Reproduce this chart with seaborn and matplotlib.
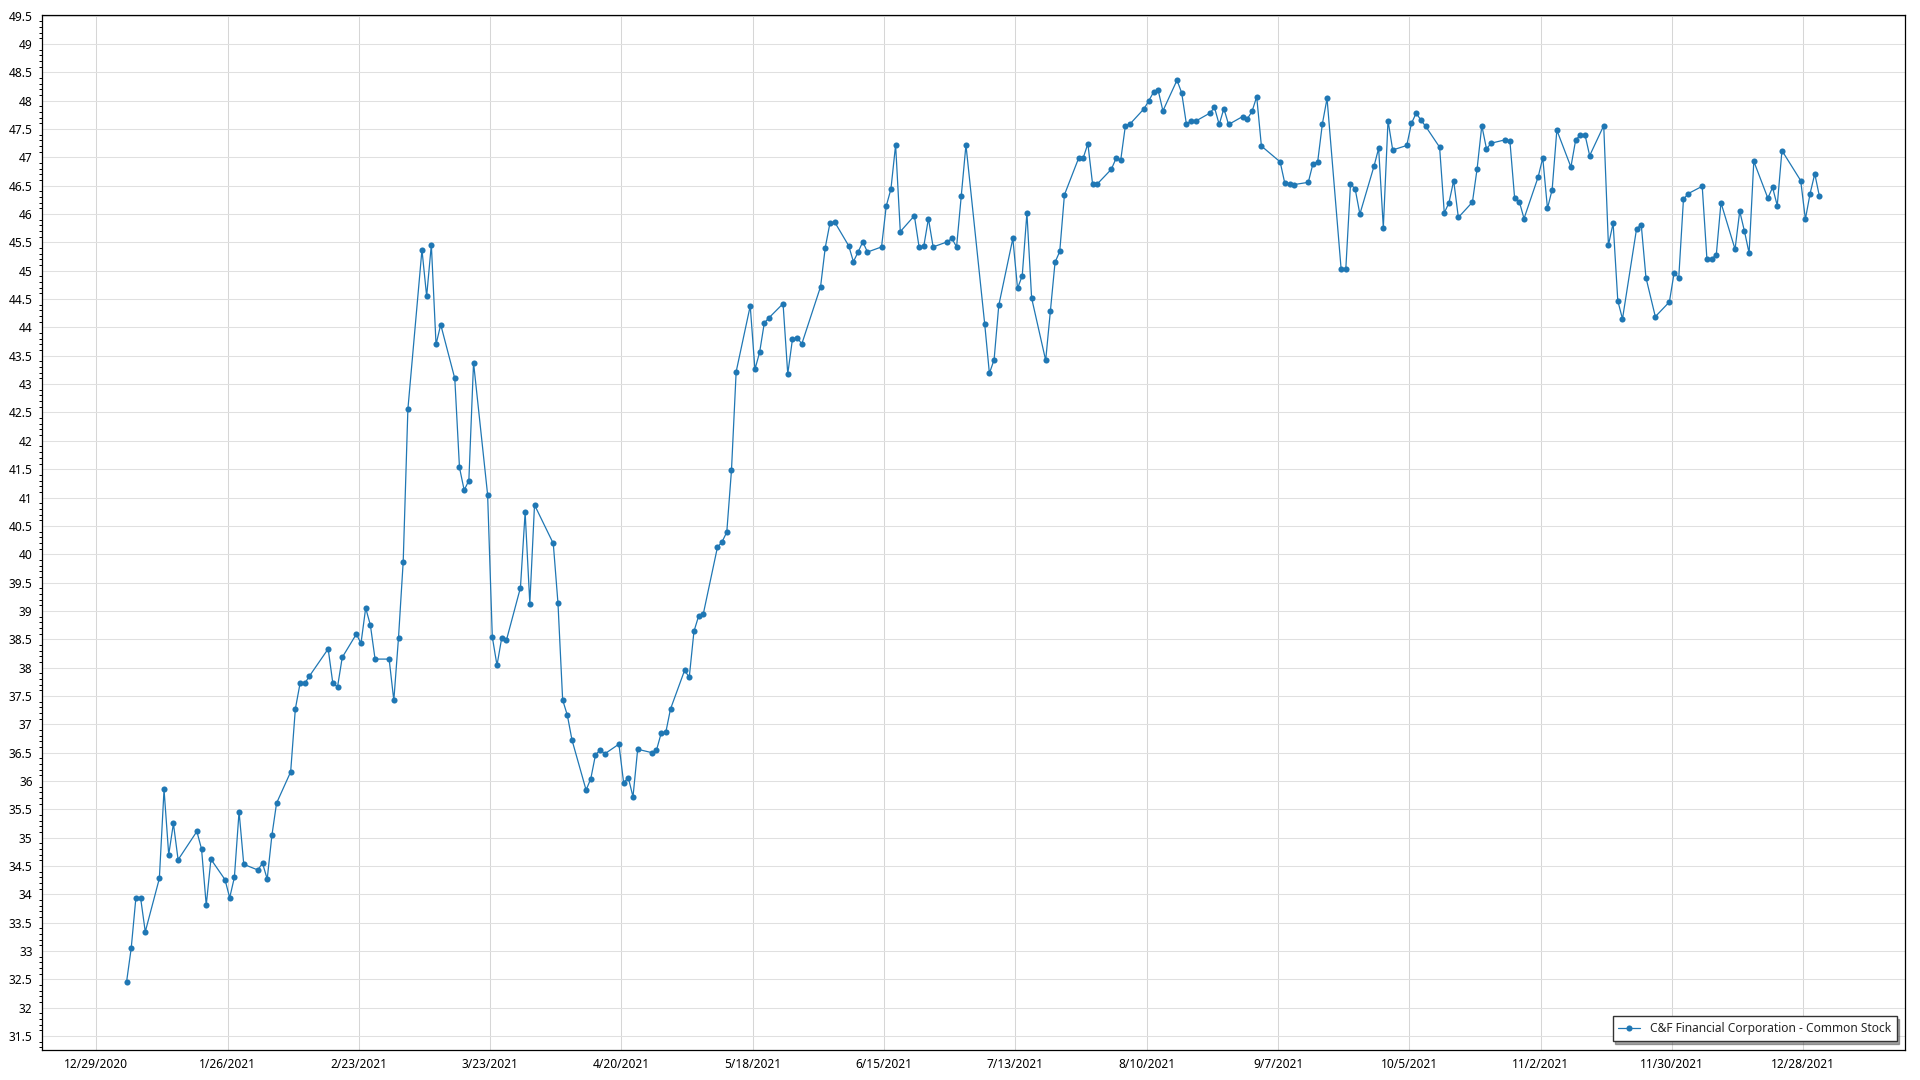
import numpy as np
import pandas as pd
import matplotlib
matplotlib.use("Agg")
import matplotlib.pyplot as plt
import matplotlib.dates as mdates
from matplotlib.ticker import FixedLocator, FuncFormatter, MultipleLocator
import seaborn as sns

# ─── DATA (daily close) ──────────────────────────────────
SERIES_NAME = "C&F Financial Corporation - Common Stock"

trade_dates = [
    "2021-01-04", "2021-01-05", "2021-01-06", "2021-01-07", "2021-01-08",
    "2021-01-11", "2021-01-12", "2021-01-13", "2021-01-14", "2021-01-15",
    "2021-01-19", "2021-01-20", "2021-01-21", "2021-01-22", "2021-01-25",
    "2021-01-26", "2021-01-27", "2021-01-28", "2021-01-29",
    "2021-02-01", "2021-02-02", "2021-02-03", "2021-02-04", "2021-02-05",
    "2021-02-08", "2021-02-09", "2021-02-10", "2021-02-11", "2021-02-12",
    "2021-02-16", "2021-02-17", "2021-02-18", "2021-02-19", "2021-02-22",
    "2021-02-23", "2021-02-24", "2021-02-25", "2021-02-26",
    "2021-03-01", "2021-03-02", "2021-03-03", "2021-03-04", "2021-03-05",
    "2021-03-08", "2021-03-09", "2021-03-10", "2021-03-11", "2021-03-12",
    "2021-03-15", "2021-03-16", "2021-03-17", "2021-03-18", "2021-03-19",
    "2021-03-22", "2021-03-23", "2021-03-24", "2021-03-25", "2021-03-26",
    "2021-03-29", "2021-03-30", "2021-03-31",
    "2021-04-01", "2021-04-05", "2021-04-06", "2021-04-07", "2021-04-08",
    "2021-04-09", "2021-04-12", "2021-04-13", "2021-04-14", "2021-04-15",
    "2021-04-16", "2021-04-19", "2021-04-20", "2021-04-21", "2021-04-22",
    "2021-04-23", "2021-04-26", "2021-04-27", "2021-04-28", "2021-04-29",
    "2021-04-30",
    "2021-05-03", "2021-05-04", "2021-05-05", "2021-05-06", "2021-05-07",
    "2021-05-10", "2021-05-11", "2021-05-12", "2021-05-13", "2021-05-14",
    "2021-05-17", "2021-05-18", "2021-05-19", "2021-05-20", "2021-05-21",
    "2021-05-24", "2021-05-25", "2021-05-26", "2021-05-27", "2021-05-28",
    "2021-06-01", "2021-06-02", "2021-06-03", "2021-06-04", "2021-06-07",
    "2021-06-08", "2021-06-09", "2021-06-10", "2021-06-11", "2021-06-14",
    "2021-06-15", "2021-06-16", "2021-06-17", "2021-06-18", "2021-06-21",
    "2021-06-22", "2021-06-23", "2021-06-24", "2021-06-25", "2021-06-28",
    "2021-06-29", "2021-06-30",
    "2021-07-01", "2021-07-02", "2021-07-06", "2021-07-07", "2021-07-08",
    "2021-07-09", "2021-07-12", "2021-07-13", "2021-07-14", "2021-07-15",
    "2021-07-16", "2021-07-19", "2021-07-20", "2021-07-21", "2021-07-22",
    "2021-07-23", "2021-07-26", "2021-07-27", "2021-07-28", "2021-07-29",
    "2021-07-30",
    "2021-08-02", "2021-08-03", "2021-08-04", "2021-08-05", "2021-08-06",
    "2021-08-09", "2021-08-10", "2021-08-11", "2021-08-12", "2021-08-13",
    "2021-08-16", "2021-08-17", "2021-08-18", "2021-08-19", "2021-08-20",
    "2021-08-23", "2021-08-24", "2021-08-25", "2021-08-26", "2021-08-27",
    "2021-08-30", "2021-08-31",
    "2021-09-01", "2021-09-02", "2021-09-03", "2021-09-07", "2021-09-08",
    "2021-09-09", "2021-09-10", "2021-09-13", "2021-09-14", "2021-09-15",
    "2021-09-16", "2021-09-17", "2021-09-20", "2021-09-21", "2021-09-22",
    "2021-09-23", "2021-09-24", "2021-09-27", "2021-09-28", "2021-09-29",
    "2021-09-30",
    "2021-10-01", "2021-10-04", "2021-10-05", "2021-10-06", "2021-10-07",
    "2021-10-08", "2021-10-11", "2021-10-12", "2021-10-13", "2021-10-14",
    "2021-10-15", "2021-10-18", "2021-10-19", "2021-10-20", "2021-10-21",
    "2021-10-22", "2021-10-25", "2021-10-26", "2021-10-27", "2021-10-28",
    "2021-10-29",
    "2021-11-01", "2021-11-02", "2021-11-03", "2021-11-04", "2021-11-05",
    "2021-11-08", "2021-11-09", "2021-11-10", "2021-11-11", "2021-11-12",
    "2021-11-15", "2021-11-16", "2021-11-17", "2021-11-18", "2021-11-19",
    "2021-11-22", "2021-11-23", "2021-11-24", "2021-11-26", "2021-11-29",
    "2021-11-30",
    "2021-12-01", "2021-12-02", "2021-12-03", "2021-12-06", "2021-12-07",
    "2021-12-08", "2021-12-09", "2021-12-10", "2021-12-13", "2021-12-14",
    "2021-12-15", "2021-12-16", "2021-12-17", "2021-12-20", "2021-12-21",
    "2021-12-22", "2021-12-23", "2021-12-27", "2021-12-28", "2021-12-29",
    "2021-12-30", "2021-12-31",
]

close_prices = [
    # Jan
    32.45, 33.05, 33.94, 33.94, 33.34, 34.28, 35.85, 34.70, 35.25, 34.61,
    35.11, 34.80, 33.81, 34.62, 34.26, 33.94, 34.30, 35.46, 34.53,
    # Feb
    34.43, 34.55, 34.27, 35.04, 35.61, 36.16, 37.27, 37.72, 37.72, 37.85,
    38.33, 37.72, 37.66, 38.18, 38.59, 38.43, 39.05, 38.75, 38.15,
    # Mar
    38.15, 37.42, 38.53, 39.87, 42.56, 45.37, 44.55, 45.46, 43.70, 44.05,
    43.10, 41.53, 41.13, 41.30, 43.38, 41.05, 38.54, 38.04, 38.52, 38.48,
    39.41, 40.74, 39.13,
    # Apr
    40.87, 40.19, 39.14, 37.43, 37.16, 36.72, 35.84, 36.04, 36.46, 36.55,
    36.48, 36.65, 35.97, 36.06, 35.72, 36.56, 36.50, 36.54, 36.84, 36.86,
    37.27,
    # May
    37.95, 37.83, 38.64, 38.91, 38.95, 40.12, 40.22, 40.39, 41.48, 43.22,
    44.38, 43.26, 43.56, 44.08, 44.17, 44.42, 43.18, 43.79, 43.82, 43.71,
    # Jun
    44.72, 45.41, 45.84, 45.86, 45.44, 45.16, 45.33, 45.51, 45.33, 45.42,
    46.14, 46.44, 47.22, 45.69, 45.97, 45.42, 45.43, 45.92, 45.42, 45.51,
    45.57, 45.42,
    # Jul
    46.32, 47.22, 44.06, 43.19, 43.43, 44.39, 45.57, 44.69, 44.91, 46.02,
    44.52, 43.42, 44.29, 45.15, 45.34, 46.34, 46.98, 46.99, 47.24, 46.53,
    46.53,
    # Aug
    46.79, 46.98, 46.95, 47.56, 47.59, 47.86, 48.00, 48.15, 48.18, 47.82,
    48.36, 48.14, 47.59, 47.64, 47.64, 47.78, 47.88, 47.58, 47.86, 47.58,
    47.72, 47.68,
    # Sep
    47.81, 48.07, 47.20, 46.92, 46.54, 46.53, 46.52, 46.56, 46.89, 46.92,
    47.59, 48.04, 45.03, 45.03, 46.53, 46.44, 46.00, 46.84, 47.16, 45.76,
    47.65,
    # Oct
    47.13, 47.21, 47.60, 47.78, 47.66, 47.55, 47.18, 46.02, 46.20, 46.59,
    45.94, 46.21, 46.80, 47.56, 47.15, 47.25, 47.31, 47.28, 46.28, 46.22,
    45.92,
    # Nov
    46.65, 46.99, 46.10, 46.43, 47.48, 46.83, 47.30, 47.40, 47.40, 47.03,
    47.56, 45.45, 45.84, 44.47, 44.15, 45.74, 45.81, 44.88, 44.19, 44.45,
    44.96,
    # Dec
    44.88, 46.26, 46.36, 46.49, 45.21, 45.21, 45.28, 46.20, 45.38, 46.05,
    45.70, 45.31, 46.93, 46.28, 46.47, 46.15, 47.12, 46.59, 45.91, 46.36,
    46.71, 46.31,
]

# quotes are stamped late morning, not at midnight
QUOTE_TIME = pd.Timedelta(hours=11)

# axis ticks: every 28 days on x, every 0.5 on y
x_tick_dates = pd.date_range("2020-12-29", periods=14, freq="28D")
y_ticks = np.arange(31.5, 49.51, 0.5)

df = pd.DataFrame({"date": pd.to_datetime(trade_dates) + QUOTE_TIME,
                   "close": close_prices})

# ─── STYLE ───────────────────────────────────────────────
sns.set_style("white")
plt.rcParams["font.family"] = ["Noto Sans", "DejaVu Sans"]
plt.rcParams["font.size"] = 8.6

LINE_COLOR = "#1f77b4"

fig, ax = plt.subplots(figsize=(19.2, 10.8), dpi=100)
fig.subplots_adjust(left=42.3 / 1920, right=1905 / 1920,
                    bottom=30.3 / 1080, top=1065.5 / 1080)

sns.lineplot(data=df, x="date", y="close", ax=ax, color=LINE_COLOR,
             linewidth=0.9, marker="o", markersize=4.4, markeredgewidth=0,
             label=SERIES_NAME)

# ─── AXES ────────────────────────────────────────────────
x0 = mdates.date2num(pd.Timestamp("2020-12-29"))
ax.set_xlim(x0 - 11.5, x0 + 385.7)
ax.set_ylim(31.26, 49.52)

ax.xaxis.set_major_locator(FixedLocator(mdates.date2num(x_tick_dates)))
ax.xaxis.set_major_formatter(FuncFormatter(
    lambda v, pos: (lambda d: f"{d.month}/{d.day}/{d.year}")(mdates.num2date(v))))
ax.yaxis.set_major_locator(FixedLocator(y_ticks))
ax.yaxis.set_major_formatter(FuncFormatter(lambda v, pos: f"{v:g}"))
ax.yaxis.set_minor_locator(MultipleLocator(0.1))

ax.set_xlabel("")
ax.set_ylabel("")

ax.grid(axis="y", which="major", color="#e0e0e0", linewidth=0.75)
ax.grid(axis="x", which="major", color="#d6d6d6", linewidth=0.75)
ax.set_axisbelow(True)

ax.tick_params(axis="both", which="major", direction="out", length=4,
               width=0.8, color="black", labelcolor="black", labelsize=8.6, pad=3)
ax.tick_params(axis="y", which="minor", direction="out", length=2.2,
               width=0.7, color="black", left=True)
ax.tick_params(axis="x", which="minor", bottom=False)
ax.tick_params(axis="x", pad=2)

for side in ["left", "bottom", "top", "right"]:
    ax.spines[side].set_visible(True)
    ax.spines[side].set_color("black")
    ax.spines[side].set_linewidth(0.9)

leg = ax.legend(loc="lower right", frameon=True, fancybox=False, shadow=True,
                fontsize=8.6, handlelength=1.8, borderaxespad=0.7,
                borderpad=0.5)
leg.get_frame().set_edgecolor("#333333")
leg.get_frame().set_linewidth(1.0)

plt.savefig("out.png", dpi=100)
plt.close()
print("Saved: out.png")
